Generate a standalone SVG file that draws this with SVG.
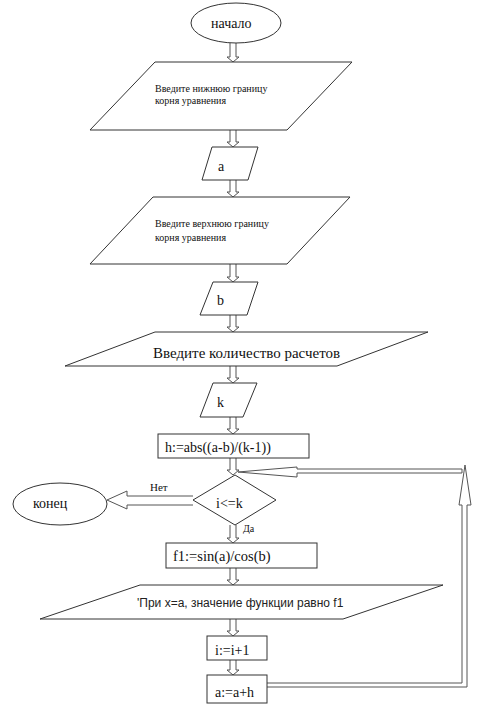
<svg xmlns="http://www.w3.org/2000/svg" width="500" height="710" viewBox="0 0 500 710">
<style>
.s{fill:#fff;stroke:#333;stroke-width:1}
.a{fill:#fff;stroke:#555;stroke-width:1}
.t{font-family:"Liberation Serif","Times New Roman","DejaVu Serif",serif;fill:#111}
.sans{font-family:"Liberation Sans",Arial,sans-serif;fill:#222}
</style>
<rect width="500" height="710" fill="#fff"/>
<g id="connectors">
<path class="a" d="M230 43 L230 57 L227 57 L233 62 L239 57 L236 57 L236 43"/>
<path class="a" d="M230 130 L230 142 L227 142 L233 147 L239 142 L236 142 L236 130"/>
<path class="a" d="M230 180 L230 192 L227 192 L233 197 L239 192 L236 192 L236 180"/>
<path class="a" d="M230 264 L230 277 L227 277 L233 282 L239 277 L236 277 L236 264"/>
<path class="a" d="M230 315 L230 327 L227 327 L233 332 L239 327 L236 327 L236 315"/>
<path class="a" d="M230 366 L230 378 L227 378 L233 383 L239 378 L236 378 L236 366"/>
<path class="a" d="M230 417 L230 429 L227 429 L233 434 L239 429 L236 429 L236 417"/>
<path class="a" d="M230 458 L230 470 L227 470 L233 475 L239 470 L236 470 L236 458"/>
<path class="a" d="M230 525 L230 538 L227 538 L233 543 L239 538 L236 538 L236 525"/>
<path class="a" d="M230 568 L230 580 L227 580 L233 585 L239 580 L236 580 L236 568"/>
<path class="a" d="M230 619 L230 631 L227 631 L233 636 L239 631 L236 631 L236 619"/>
<path class="a" d="M230 660 L230 670 L227 670 L233 675 L239 670 L236 670 L236 660"/>
<path class="a" d="M193 496 L127 496 L127 491 L107 500 L127 509 L127 505 L193 505"/>
<path class="a" d="M267 683 L462 683 L462 505 L459 505 L465 465 L471 505 L467 505 L467 687 L267 687"/>
<path class="a" d="M462 469 L297 469 L297 467 L238 472 L297 477 L297 473 L462 473 Z"/>
<text class="t" x="150" y="491" font-size="11">Нет</text>
<text class="t" x="243" y="532" font-size="10">Да</text>
</g>
<g id="start">
<ellipse class="s" cx="236" cy="23" rx="45" ry="20"/>
<text class="t" x="211" y="28" font-size="14">начало</text>
</g>
<g id="in1">
<polygon class="s" points="155,62 352,62 287,130 90,130"/>
<text class="t" x="155" y="92" font-size="10">Введите нижнюю границу</text>
<text class="t" x="155" y="104" font-size="10">корня уравнения</text>
</g>
<g id="inA">
<polygon class="s" points="212,147 258,147 248,180 202,180"/>
<text class="t" x="218" y="171" font-size="14">a</text>
</g>
<g id="in2">
<polygon class="s" points="153,197 350,197 287,264 90,264"/>
<text class="t" x="155" y="227" font-size="10">Введите верхнюю границу</text>
<text class="t" x="155" y="241" font-size="10">корня уравнения</text>
</g>
<g id="inB">
<polygon class="s" points="213,282 258,282 247,315 200,315"/>
<text class="t" x="217" y="305" font-size="14">b</text>
</g>
<g id="in3">
<polygon class="s" points="155,332 428,332 337,366 65,366"/>
<text class="t" x="153" y="358" font-size="15">Введите количество расчетов</text>
</g>
<g id="inK">
<polygon class="s" points="213,383 257,383 243,417 200,417"/>
<text class="t" x="217" y="407" font-size="14">k</text>
</g>
<g id="h">
<rect class="s" x="158" y="434" width="151" height="24"/>
<text class="t" x="165" y="452" font-size="14">h:=abs((a-b)/(k-1))</text>
</g>
<g id="cond">
<polygon class="s" points="235,475 276,500 235,525 193,500"/>
<text class="t" x="216" y="508" font-size="14">i&lt;=k</text>
</g>
<g id="end">
<ellipse class="s" cx="60" cy="504" rx="47" ry="21"/>
<text class="t" x="33" y="508" font-size="14">конец</text>
</g>
<g id="f1">
<rect class="s" x="166" y="543" width="151" height="25"/>
<text class="t" x="173" y="561" font-size="14.5">f1:=sin(a)/cos(b)</text>
</g>
<g id="out">
<polygon class="s" points="140,585 443,585 343,619 40,619"/>
<text class="sans" x="137" y="607" font-size="12">'При x=a, значение функции равно f1</text>
</g>
<g id="inc">
<rect class="s" x="207" y="636" width="60" height="24"/>
<text class="t" x="215" y="655" font-size="14">i:=i+1</text>
</g>
<g id="step">
<rect class="s" x="207" y="675" width="60" height="28"/>
<text class="t" x="215" y="697" font-size="14">a:=a+h</text>
</g>
</svg>
